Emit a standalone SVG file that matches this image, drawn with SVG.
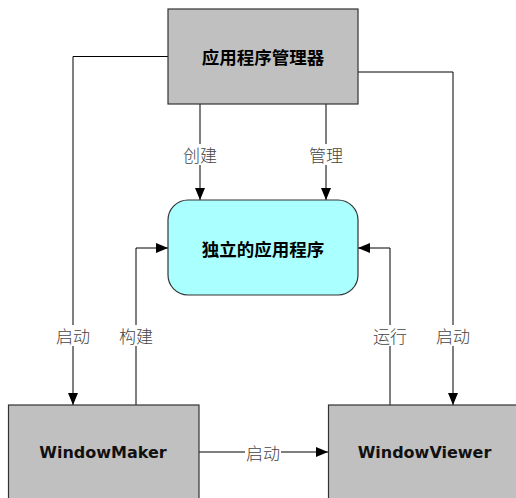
<svg xmlns="http://www.w3.org/2000/svg" width="516" height="498" viewBox="0 0 516 498">
<defs>
<style>
.box{fill:#c0c0c0;stroke:#333;stroke-width:1.2}
.app{fill:#aaffff;stroke:#333;stroke-width:1.2}
.ttl{font-family:"Noto Sans CJK SC",sans-serif;font-weight:bold;font-size:17.5px;fill:#000;text-anchor:middle;dominant-baseline:central}
.en{font-family:"DejaVu Sans",sans-serif;font-weight:bold;font-size:16px;fill:#111;text-anchor:middle;dominant-baseline:central}
.ln{fill:none;stroke:#000;stroke-width:1}
.lbl{font-family:"Noto Sans CJK SC",sans-serif;font-weight:300;font-size:17px;fill:#444;text-anchor:middle;dominant-baseline:central}
.lb{fill:#fff}
</style>
<marker id="ah" viewBox="0 0 12 10" refX="12" refY="5" markerWidth="12" markerHeight="10" markerUnits="userSpaceOnUse" orient="auto">
<path d="M0,0 L12,5 L0,10 Z" fill="#000"/>
</marker>
</defs>
<rect width="516" height="498" fill="#fff"/>
<g id="connectors">
<path class="ln" d="M168,56.5 H73 V405" marker-end="url(#ah)"/>
<path class="ln" d="M358,72 H453 V405" marker-end="url(#ah)"/>
<path class="ln" d="M200,104 V200" marker-end="url(#ah)"/>
<path class="ln" d="M326,104 V200" marker-end="url(#ah)"/>
<path class="ln" d="M136,405 V248 H168" marker-end="url(#ah)"/>
<path class="ln" d="M390,405 V248 H358" marker-end="url(#ah)"/>
<path class="ln" d="M199,452 H328" marker-end="url(#ah)"/>
<rect class="lb" x="181" y="144" width="38" height="21"/>
<text class="lbl" x="200" y="154">创建</text>
<rect class="lb" x="307" y="144" width="38" height="21"/>
<text class="lbl" x="326" y="154">管理</text>
<rect class="lb" x="54" y="325" width="38" height="21"/>
<text class="lbl" x="73" y="335.5">启动</text>
<rect class="lb" x="117" y="325" width="38" height="21"/>
<text class="lbl" x="136" y="335.5">构建</text>
<rect class="lb" x="371" y="325" width="38" height="21"/>
<text class="lbl" x="390" y="335.5">运行</text>
<rect class="lb" x="434" y="325" width="38" height="21"/>
<text class="lbl" x="453" y="335.5">启动</text>
<rect class="lb" x="245" y="442" width="36" height="20"/>
<text class="lbl" x="263" y="452">启动</text>
</g>
<g id="manager">
<rect class="box" x="168" y="9" width="190" height="95"/>
<text class="ttl" x="263" y="56.5">应用程序管理器</text>
</g>
<g id="app">
<rect class="app" x="168" y="200" width="190" height="95" rx="20" ry="20"/>
<text class="ttl" x="263" y="248">独立的应用程序</text>
</g>
<g id="windowmaker">
<rect class="box" x="8.5" y="405" width="190.5" height="100"/>
<text class="en" x="103" y="452">WindowMaker</text>
</g>
<g id="windowviewer">
<rect class="box" x="328.5" y="405" width="195" height="100"/>
<text class="en" x="424.5" y="452">WindowViewer</text>
</g>
</svg>
